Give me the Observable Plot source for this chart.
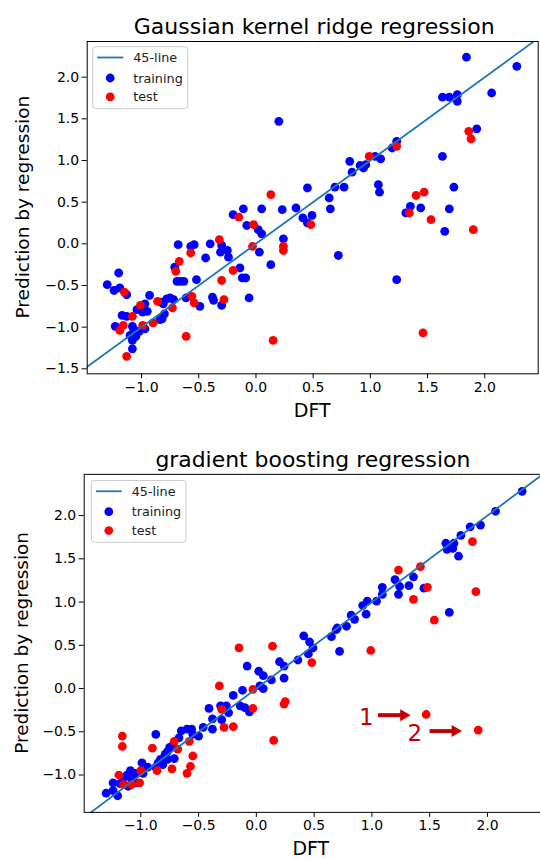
<!DOCTYPE html>
<html><head><meta charset="utf-8">
<script src="https://cdn.jsdelivr.net/npm/d3@7"></script>
<script src="https://cdn.jsdelivr.net/npm/@observablehq/plot@0.6"></script>
<style>
html,body{margin:0;padding:0;background:#fff;overflow:hidden;}
#wrap{width:540px;height:859px;overflow:hidden;}
svg{display:block;}
</style></head><body><div id="wrap"></div>
<script>
// ---- Data (DFT value, predicted value) ----
const krrTraining = [
 [0.20,1.47],[0.45,0.67],[-0.11,0.42],[0.05,0.42],[0.23,0.41],[0.35,0.43],[1.84,2.24],[2.28,2.13],
 [2.06,1.81],[1.63,1.76],[1.69,1.76],[1.76,1.79],[1.76,1.71],[1.93,1.38],[1.63,1.05],[1.23,1.23],
 [1.19,1.15],[1.04,1.05],[1.09,1.02],[0.82,0.99],[0.91,0.94],[0.96,0.95],[0.94,0.91],[0.84,0.86],
 [1.73,0.68],[1.07,0.71],[1.08,0.62],[0.69,0.68],[0.77,0.68],[0.64,0.55],[0.65,0.42],[1.35,0.45],
 [1.44,0.43],[1.69,0.42],[1.31,0.37],[1.65,0.15],[0.72,-0.14],[1.23,-0.43],[0.41,0.31],[0.49,0.34],
 [0.45,0.25],[-0.20,0.35],[-0.08,0.22],[0.02,0.17],[0.05,0.12],[0.24,0.06],[0.03,-0.10],[0.13,-0.25],
 [-0.40,0.00],[-0.30,-0.02],[-0.25,-0.08],[-0.31,-0.10],[-0.24,-0.16],[-0.44,-0.17],[-0.14,-0.29],
 [-0.12,-0.41],[-0.09,-0.41],[-0.68,-0.01],[-0.57,-0.03],[-0.54,-0.01],[-0.71,-0.28],[-0.69,-0.45],
 [-0.66,-0.45],[-0.63,-0.45],[-0.52,-0.43],[-0.38,-0.64],[-0.37,-0.68],[-0.30,-0.74],[-0.06,-0.65],
 [-0.61,-0.65],[-0.49,-0.75],[-0.78,-0.66],[-0.75,-0.65],[-0.72,-0.67],[-0.81,-0.72],[-0.83,-0.70],
 [-0.93,-0.62],[-0.97,-0.72],[-0.99,-0.77],[-1.04,-0.79],[-0.80,-0.84],[-0.82,-0.90],[-0.84,-0.91],
 [-0.97,-1.02],[-1.02,-1.05],[-1.17,-0.86],[-1.13,-0.87],[-1.23,-0.99],[-1.08,-0.99],[-1.07,-1.02],
 [-1.10,-1.10],[-1.08,-1.16],[-1.08,-1.26],[-1.30,-0.49],[-1.24,-0.56],[-1.19,-0.53],[-1.20,-0.35],
 [-1.13,-0.61],[-0.95,-0.81],[-0.99,-0.82],[-1.05,-1.11]
];
const krrTest = [
 [0.13,0.59],[1.86,1.35],[1.88,1.26],[1.23,1.17],[0.99,1.05],[1.40,0.58],[1.47,0.62],[1.34,0.37],
 [1.53,0.29],[1.90,0.17],[1.46,-1.07],[0.48,0.23],[-0.15,0.32],[-0.02,0.23],[0.24,-0.03],[0.24,-0.08],
 [-0.03,-0.03],[-0.32,0.05],[-0.20,-0.32],[-0.30,-0.44],[-0.57,-0.11],[-0.67,-0.21],[-0.70,-0.33],
 [-0.28,-0.67],[-0.56,-0.63],[-0.54,-0.71],[-0.73,-0.77],[-0.86,-0.69],[-1.01,-0.74],[-0.90,-0.95],
 [-0.99,-0.98],[-1.08,-0.87],[-1.16,-0.98],[-1.19,-1.04],[-1.13,-1.35],[-0.61,-1.11],[0.15,-1.16],
 [-1.15,-0.58]
];
const gbTraining = [
 [2.30,2.28],[2.07,2.05],[1.94,1.89],[1.85,1.87],[1.77,1.77],[1.64,1.68],[1.71,1.68],[1.65,1.61],
 [1.70,1.62],[1.75,1.53],[1.36,1.29],[1.20,1.26],[1.09,1.17],[1.24,1.18],[1.32,1.19],[1.45,1.16],
 [1.09,1.09],[1.23,1.09],[1.04,1.01],[0.96,1.01],[0.92,0.96],[0.95,0.86],[0.82,0.85],[0.85,0.80],
 [1.67,0.88],[0.70,0.70],[0.78,0.72],[0.69,0.68],[0.65,0.60],[0.72,0.43],[0.41,0.61],[0.46,0.54],
 [0.49,0.47],[0.45,0.40],[0.36,0.33],[0.20,0.31],[0.24,0.26],[0.24,0.12],[-0.08,0.26],[0.02,0.20],
 [0.06,0.15],[0.13,0.10],[0.03,0.03],[0.06,0.00],[-0.12,-0.02],[-0.20,-0.08],[-0.41,-0.23],
 [-0.31,-0.20],[-0.26,-0.20],[-0.24,-0.28],[-0.30,-0.36],[-0.38,-0.35],[-0.14,-0.20],[-0.10,-0.22],
 [-0.06,-0.27],[-0.38,-0.47],[-0.46,-0.45],[-0.65,-0.49],[-0.60,-0.47],[-0.56,-0.47],[-0.55,-0.53],
 [-0.50,-0.55],[-0.67,-0.57],[-0.72,-0.65],[-0.75,-0.68],[-0.77,-0.73],[-0.79,-0.76],[-0.87,-0.53],
 [-0.83,-0.82],[-0.81,-0.88],[-0.77,-0.82],[-0.71,-0.81],[-0.85,-0.86],[-0.87,-0.91],[-0.99,-0.86],
 [-0.94,-0.91],[-0.98,-0.98],[-1.05,-0.98],[-1.09,-0.95],[-1.12,-1.00],[-1.08,-1.04],[-1.15,-1.04],
 [-1.24,-1.09],[-1.18,-1.10],[-1.11,-1.13],[-1.24,-1.18],[-1.30,-1.21],[-1.20,-1.24],[-1.04,-1.09]
];
const gbTest = [
 [1.87,1.70],[1.23,1.37],[1.42,1.41],[1.48,1.17],[1.36,1.03],[1.90,1.12],[1.54,0.79],[0.99,0.44],
 [0.48,0.30],[-0.15,0.47],[0.14,0.49],[-0.32,0.03],[-0.03,-0.01],[0.25,-0.15],[0.24,-0.18],
 [-0.03,-0.23],[-0.30,-0.24],[-0.28,-0.45],[-0.20,-0.44],[0.15,-0.60],[-0.71,-0.61],[-0.68,-0.70],
 [-0.58,-0.61],[-0.55,-0.78],[-0.57,-0.90],[-0.60,-0.98],[-0.73,-0.93],[-0.90,-0.69],[-1.16,-0.55],
 [-1.16,-0.67],[-0.86,-0.95],[-1.00,-0.95],[-1.19,-1.00],[-1.15,-1.11],[-1.08,-1.11],[-1.01,-1.09],
 [1.47,-0.30],[1.92,-0.48]
];
const xTicks = [-1.0,-0.5,0.0,0.5,1.0,1.5,2.0];
const krrYTicks = [-1.5,-1.0,-0.5,0.0,0.5,1.0,1.5,2.0];
const gbYTicks = [-1.0,-0.5,0.0,0.5,1.0,1.5,2.0];
const diagonal = [-3, 4];
const legendLabels = ["45-line","training","test"];
const titles = ["Gaussian kernel ridge regression","gradient boosting regression"];
const xLabel = "DFT";
const yLabel = "Prediction by regression";
const outlierLabels = [{label:"1", x:0.952, y:-0.334},{label:"2", x:1.371, y:-0.522}];
const outlierArrows = [{x1:1.053, x2:1.275, y:-0.308},{x1:1.499, x2:1.72, y:-0.492}];

const FONT = "DejaVu Sans";
const LINE = "#1f77b4";
const ANN = "#c00000";
const R = 4.4;
const fmt = d3.format(".1f");

function panel(o) {
  const marks = [
    Plot.axisX({ticks: xTicks, tickFormat: fmt, tickSize: 5, tickPadding: 3, fontSize: 14, label: null, stroke: "black", fill: "black"}),
    Plot.axisY({ticks: o.yTicks, tickFormat: fmt, tickSize: 5, tickPadding: 3, fontSize: 14, label: null, stroke: "black", fill: "black"}),
    Plot.dot(o.training, {x: d => d[0], y: d => d[1], r: R, fill: "#0000ff"}),
    Plot.dot(o.test, {x: d => d[0], y: d => d[1], r: R, fill: "#ff0000"}),
    Plot.line(diagonal, {x: d => d, y: d => d, stroke: LINE, strokeWidth: 1.8, clip: true}),
    Plot.frame({stroke: "black", strokeWidth: 1})
  ];
  if (o.annotate) {
    marks.push(
      Plot.link(outlierArrows, {x1: "x1", x2: "x2", y1: "y", y2: "y", stroke: ANN, strokeWidth: 4}),
      Plot.dot(outlierArrows, {x: "x2", y: "y", symbol: "triangle", rotate: 90, r: 4.5, fill: ANN}),
      Plot.text(outlierLabels, {x: "x", y: "y", text: "label", fill: ANN, fontSize: 23})
    );
  }
  const svg = Plot.plot({
    width: o.width, height: o.height,
    marginTop: o.mt, marginBottom: o.mb, marginLeft: o.ml, marginRight: o.mr,
    style: {fontFamily: FONT, background: "white", color: "black", overflow: "visible"},
    x: {domain: o.xDomain},
    y: {domain: o.yDomain},
    marks
  });
  const s = d3.select(svg);
  const left = o.ml, right = o.width - o.mr, top = o.mt, bottom = o.height - o.mb;
  const cx = (left + Math.min(right, 540)) / 2 + 2;
  s.append("text").attr("x", cx).attr("y", top - 7)
    .attr("text-anchor", "middle").attr("font-size", 22).attr("fill", "black").text(o.title);
  s.append("text").attr("x", cx - 2).attr("y", bottom + 43.5)
    .attr("text-anchor", "middle").attr("font-size", 19).attr("fill", "black").text(xLabel);
  s.append("text").attr("transform", `translate(22,${(top + bottom) / 2}) rotate(-90)`)
    .attr("text-anchor", "middle").attr("dominant-baseline", "central")
    .attr("font-size", 18.5).attr("fill", "black").text(yLabel);
  // legend
  const lx = left + o.legDx, ly = top + o.legDy;
  const g = s.append("g");
  g.append("rect").attr("x", lx).attr("y", ly).attr("width", 95).attr("height", 62)
    .attr("rx", 3).attr("fill", "white").attr("fill-opacity", 0.8).attr("stroke", "#cccccc").attr("stroke-width", 1);
  g.append("line").attr("x1", lx + 4.5).attr("x2", lx + 30.5).attr("y1", ly + 10.8).attr("y2", ly + 10.8)
    .attr("stroke", LINE).attr("stroke-width", 1.8);
  g.append("circle").attr("cx", lx + 17.5).attr("cy", ly + 31.3).attr("r", R).attr("fill", "#0000ff");
  g.append("circle").attr("cx", lx + 17.5).attr("cy", ly + 50.2).attr("r", R).attr("fill", "#ff0000");
  [10.8, 31.3, 50.2].forEach((dy, i) => {
    g.append("text").attr("x", lx + 40.5).attr("y", ly + dy)
      .attr("text-anchor", "start").attr("dominant-baseline", "central")
      .attr("font-size", 12.8).attr("fill", "#222").text(legendLabels[i]);
  });
  return svg;
}

const wrap = document.getElementById("wrap");
wrap.appendChild(panel({
  title: titles[0], training: krrTraining, test: krrTest, yTicks: krrYTicks,
  width: 540, height: 430, mt: 41, mb: 56.7, ml: 86.7, mr: 2.3,
  xDomain: [-1.475, 2.467], yDomain: [-1.56, 2.428], legDx: 6, legDy: 5.7
}));
wrap.appendChild(panel({
  title: titles[1], training: gbTraining, test: gbTest, yTicks: gbYTicks,
  width: 542, height: 429, mt: 44, mb: 45.7, ml: 84, mr: 0,
  xDomain: [-1.490, 2.459], yDomain: [-1.432, 2.477], legDx: 7.7, legDy: 6.7, annotate: true
}));
</script></body></html>
